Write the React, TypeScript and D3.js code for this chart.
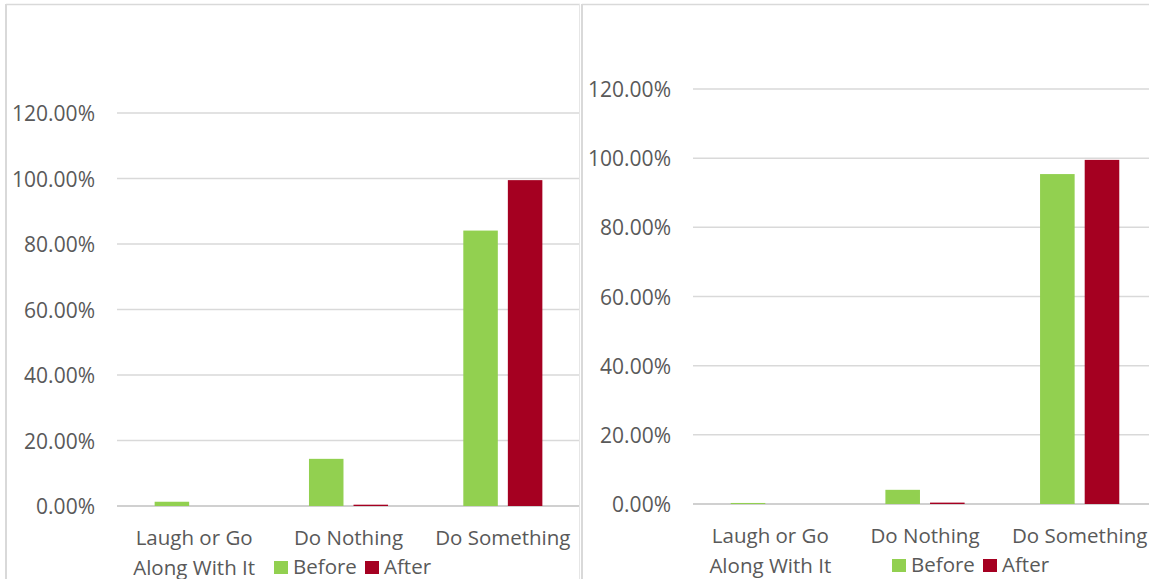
import React from "react";
import * as d3 from "d3";

const categories = ["Laugh or Go Along With It", "Do Nothing", "Do Something"];
const categoryLines = [["Laugh or Go", "Along With It"], ["Do Nothing"], ["Do Something"]];
const seriesNames = ["Before", "After"];
const seriesColors = ["#92d050", "#a50021"];
const leftBefore = [1.3, 14.4, 84.1];
const leftAfter = [0, 0.4, 99.5];
const rightBefore = [0.3, 4.1, 95.4];
const rightAfter = [0, 0.4, 99.5];
const tickValues = [0, 20, 40, 60, 80, 100, 120];

const FONT = "'Open Sans', 'Noto Sans', sans-serif";
const TEXT = "#595959";
const GRID = "#d9d9d9";

type PanelProps = {
  before: number[];
  after: number[];
  frameX0: number;
  frameX1: number;
  plotLeft: number;
  plotRight: number;
  yZero: number;
  yTop: number;
  legendX: number;
  legendBaseline: number;
  leftBorder: boolean;
};

function Panel(p: PanelProps) {
  const x = d3.scaleBand<string>().domain(categories).range([p.plotLeft, p.plotRight]).padding(0);
  const y = d3.scaleLinear().domain([0, 120]).range([p.yZero, p.yTop]);
  const bw = x.bandwidth();
  const barW = bw * 0.2236;
  const gap = bw * 0.065;
  const groupW = barW * 2 + gap;
  const series = [p.before, p.after];
  const fmt = (v: number) => d3.format(".2f")(v) + "%";
  return (
    <g>
      <line x1={p.frameX0} x2={p.frameX1} y1={4.5} y2={4.5} stroke={GRID} strokeWidth={1.5} />
      {p.leftBorder && (
        <line x1={p.frameX0} x2={p.frameX0} y1={4} y2={579} stroke={GRID} strokeWidth={2} />
      )}
      {tickValues.map((t) => (
        <g key={t}>
          <line
            x1={p.plotLeft}
            x2={p.plotRight}
            y1={y(t)}
            y2={y(t)}
            stroke={t === 0 ? "#d0d0d0" : GRID}
            strokeWidth={t === 0 ? 2 : 1.5}
          />
          <text
            x={p.plotLeft - 22}
            y={y(t) + 8}
            textAnchor="end"
            fontFamily={FONT}
            fontSize={21}
            fill={TEXT}
          >
            {fmt(t)}
          </text>
        </g>
      ))}
      {categories.map((c, i) => {
        const cx = (x(c) as number) + bw / 2;
        return (
          <g key={c}>
            {series.map((s, k) => {
              const bx = cx - groupW / 2 + k * (barW + gap);
              return (
                <rect
                  key={k}
                  x={bx}
                  width={barW}
                  y={y(s[i])}
                  height={p.yZero - y(s[i])}
                  fill={seriesColors[k]}
                />
              );
            })}
            {categoryLines[i].map((ln, j) => (
              <text
                key={j}
                x={cx}
                y={p.yZero + 39 + j * 29.5}
                textAnchor="middle"
                fontFamily={FONT}
                fontSize={20.5}
                fill={TEXT}
              >
                {ln}
              </text>
            ))}
          </g>
        );
      })}
      <g>
        <rect x={p.legendX} y={p.legendBaseline - 13} width={14} height={13} fill={seriesColors[0]} />
        <text x={p.legendX + 19} y={p.legendBaseline} fontFamily={FONT} fontSize={20.5} fill={TEXT}>
          {seriesNames[0]}
        </text>
        <rect x={p.legendX + 91} y={p.legendBaseline - 13} width={14} height={13} fill={seriesColors[1]} />
        <text x={p.legendX + 110} y={p.legendBaseline} fontFamily={FONT} fontSize={20.5} fill={TEXT}>
          {seriesNames[1]}
        </text>
      </g>
    </g>
  );
}

export default function App() {
  return (
    <div style={{ position: "fixed", left: 0, top: 0 }}>
      <svg width={1149} height={579} style={{ display: "block", background: "#fff" }}>
        <rect x={0} y={0} width={1149} height={579} fill="#fff" />
        <Panel
          before={leftBefore}
          after={leftAfter}
          frameX0={6}
          frameX1={580}
          plotLeft={117}
          plotRight={580}
          yZero={506}
          yTop={113}
          legendX={274}
          legendBaseline={574}
          leftBorder={true}
        />
        <Panel
          before={rightBefore}
          after={rightAfter}
          frameX0={582}
          frameX1={1149}
          plotLeft={693}
          plotRight={1157}
          yZero={504}
          yTop={89}
          legendX={892}
          legendBaseline={572}
          leftBorder={true}
        />
        <line x1={579.5} x2={579.5} y1={4} y2={579} stroke="#e6e6e6" strokeWidth={1} />
      </svg>
    </div>
  );
}
